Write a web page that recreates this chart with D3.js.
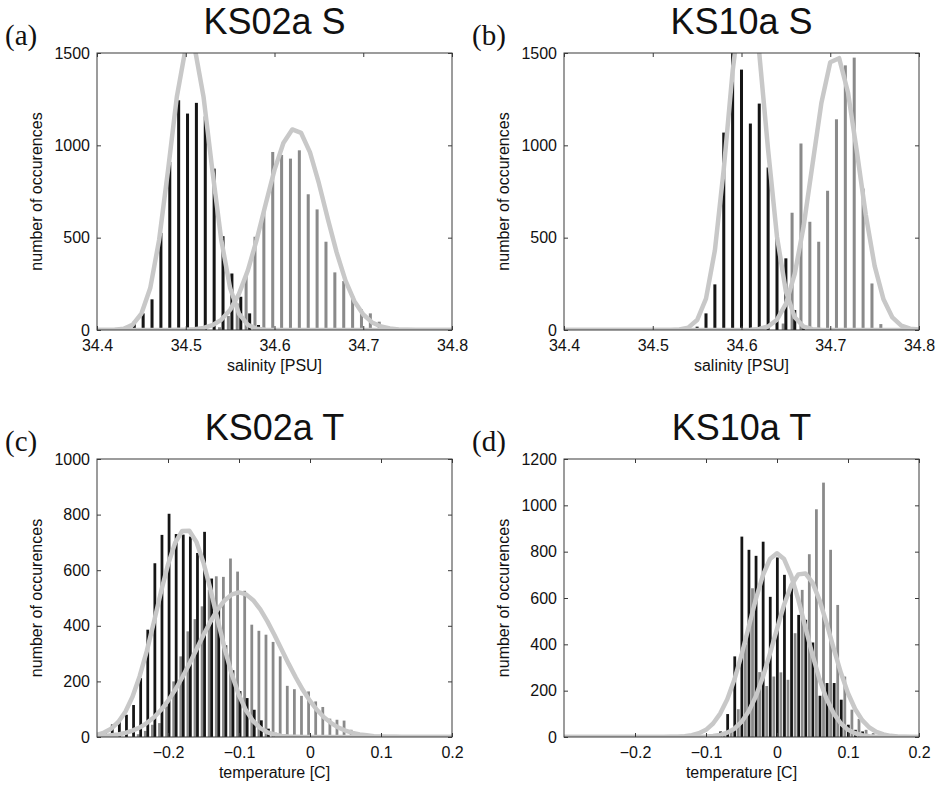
<!DOCTYPE html>
<html><head><meta charset="utf-8">
<script src="https://cdn.jsdelivr.net/npm/d3@7/dist/d3.min.js"></script>
<style>body{margin:0;background:#fff}svg{display:block}</style>
</head><body><svg id="chart" width="940" height="789"></svg>
<script>
// ---------- tick values / labels ----------
const salTicks = [34.4, 34.5, 34.6, 34.7, 34.8];
const salTickLabels = ["34.4", "34.5", "34.6", "34.7", "34.8"];
const tempTicks = [-0.2, -0.1, 0, 0.1, 0.2];
const tempTickLabels = ["\u22120.2", "\u22120.1", "0", "0.1", "0.2"];
const yTicksS = [0, 500, 1000, 1500];
const yTicksC = [0, 200, 400, 600, 800, 1000];
const yTicksD = [0, 200, 400, 600, 800, 1000, 1200];

// ---------- (a) KS02a S ----------
const aBlackX = [34.442,34.452,34.462,34.472,34.482,34.492,34.502,34.512,34.522,34.532,34.542,34.552,34.562,34.572,34.582];
const aBlackN = [45,90,166,526,910,1244,1172,1230,1157,874,508,306,180,90,27];
const aGrayX = [34.538,34.548,34.558,34.568,34.578,34.588,34.598,34.608,34.618,34.628,34.638,34.648,34.658,34.668,34.678,34.688,34.698,34.708,34.718];
const aGrayN = [15,76,144,303,505,649,964,948,928,973,735,653,478,312,265,184,112,90,45];

// salinity grid for fitted curves
const salGrid = [34.40,34.41,34.42,34.43,34.44,34.45,34.46,34.47,34.48,34.49,34.50,34.51,34.52,34.53,34.54,34.55,34.56,34.57,34.58,34.59,34.60,34.61,34.62,34.63,34.64,34.65,34.66,34.67,34.68,34.69,34.70,34.71,34.72,34.73,34.74,34.75,34.76,34.77,34.78,34.79,34.80];
const aFitBlack = [0,0,2,7,28,88,227,488,864,1264,1530,1530,1264,864,488,227,88,28,7,2,0,0,0,0,0,0,0,0,0,0,0,0,0,0,0,0,0,0,0,0,0];
const aFitGray  = [0,0,0,0,0,0,0,0,0,1,2,4,11,26,55,109,196,323,490,681,867,1013,1086,1067,962,795,603,420,267,156,84,41,19,8,3,1,0,0,0,0,0];

// ---------- (b) KS10a S ----------
const bBlackX = [34.55,34.56,34.57,34.58,34.59,34.60,34.61,34.62,34.63,34.64,34.65,34.66,34.67];
const bBlackN = [18,90,247,1069,1540,1410,1118,1226,880,505,388,108,27];
const bGrayX = [34.647,34.657,34.667,34.677,34.687,34.697,34.707,34.717,34.727,34.737,34.747,34.757];
const bGrayN = [35,635,1010,586,478,754,1141,1433,1475,766,252,32];
const bFitBlack = [0,0,0,0,0,0,0,0,0,0,0,0,0,3,13,54,170,431,870,1401,1798,1839,1500,975,505,209,69,18,4,1,0,0,0,0,0,0,0,0,0,0,0];
const bFitGray  = [0,0,0,0,0,0,0,0,0,0,0,0,0,0,0,0,0,0,0,0,0,2,6,19,56,141,304,562,897,1229,1450,1472,1286,966,625,347,166,68,24,7,2];

// ---------- (c) KS02a T ----------
const cBlackX = [-0.2985,-0.2885,-0.2785,-0.2685,-0.2585,-0.2485,-0.2385,-0.2285,-0.2185,-0.2085,-0.1985,-0.1885,-0.1785,-0.1685,-0.1585,-0.1485,-0.1385,-0.1285,-0.1185,-0.1085,-0.0985,-0.0885,-0.0785,-0.0685,-0.0585,-0.0485,-0.0385,-0.0285];
const cBlackN = [5,18,45,60,80,115,212,386,625,727,803,730,728,721,662,738,570,470,330,240,165,140,98,60,30,15,8,4];
const cGrayX = [-0.242,-0.232,-0.222,-0.212,-0.202,-0.192,-0.182,-0.172,-0.162,-0.152,-0.142,-0.132,-0.122,-0.112,-0.102,-0.092,-0.082,-0.072,-0.062,-0.052,-0.042,-0.032,-0.022,-0.012,-0.002,0.008,0.018,0.028,0.038,0.048,0.058];
const cGrayN = [10,22,44,50,110,200,290,380,424,470,530,578,576,642,595,526,404,382,368,342,290,184,172,148,164,128,108,66,62,59,26];

// temperature grid for fitted curves
const tempGrid = [-0.30,-0.29,-0.28,-0.27,-0.26,-0.25,-0.24,-0.23,-0.22,-0.21,-0.20,-0.19,-0.18,-0.17,-0.16,-0.15,-0.14,-0.13,-0.12,-0.11,-0.10,-0.09,-0.08,-0.07,-0.06,-0.05,-0.04,-0.03,-0.02,-0.01,0.00,0.01,0.02,0.03,0.04,0.05,0.06,0.07,0.08,0.09,0.10,0.11,0.12,0.13,0.14,0.15,0.16,0.17,0.18,0.19,0.20];
const cFitBlack = [8,16,30,54,91,145,218,308,412,521,620,698,741,742,702,627,529,421,316,224,150,95,57,32,17,9,4,2,1,0,0,0,0,0,0,0,0,0,0,0,0,0,0,0,0,0,0,0,0,0,0];
const cFitGray  = [2,3,6,9,15,23,34,50,70,97,130,169,214,263,315,367,416,459,492,513,520,513,492,459,416,367,315,263,214,169,130,97,70,50,34,23,15,9,6,3,2,1,1,0,0,0,0,0,0,0,0];

// ---------- (d) KS10a T ----------
const dBlackX = [-0.0895,-0.0795,-0.0695,-0.0595,-0.0495,-0.0395,-0.0295,-0.0195,-0.0095,0.0005,0.0105,0.0205,0.0305,0.0405,0.0505,0.0605,0.0705,0.0805,0.0905,0.1005,0.1105,0.1205,0.1305];
const dBlackN = [6,24,99,348,865,808,782,843,605,775,700,655,527,506,408,178,233,233,161,53,31,24,5];
const dGrayX = [-0.0745,-0.0645,-0.0545,-0.0445,-0.0345,-0.0245,-0.0145,-0.0045,0.0055,0.0155,0.0255,0.0355,0.0455,0.0555,0.0655,0.0755,0.0855,0.0955,0.1055,0.1155,0.1255,0.1355];
const dGrayN = [8,31,120,400,642,280,220,261,279,247,448,635,789,983,1098,808,570,261,118,78,31,17];
const dFitBlack = [0,0,0,0,0,0,0,0,0,0,0,0,0,0,0,1,1,3,8,16,31,58,101,163,248,354,473,593,697,768,793,768,697,593,473,354,248,163,101,58,31,16,8,3,1,1,0,0,0,0,0];
const dFitGray  = [0,0,0,0,0,0,0,0,0,0,0,0,0,0,0,0,0,0,0,1,2,4,9,19,36,65,110,174,258,359,467,571,654,702,706,666,590,489,380,277,189,121,73,41,22,11,5,2,1,0,0];

// ---------- layout / style ----------
const FONT = "'Liberation Sans', Arial, Helvetica, sans-serif";
const SERIF = "'Liberation Serif', 'Times New Roman', serif";
const BLACK_BAR = "#151515", GRAY_BAR = "#8a8a8a", FIT = "#c8c8c8", AXIS = "#3a3a3a";

const panels = [
  {key:"a", box:{l:97,r:452,t:53,b:330}, xDom:[34.4,34.8], yDom:[0,1500], xt:salTicks, xtl:salTickLabels, yt:yTicksS,
   title:"KS02a S", tag:"(a)", xlab:"salinity [PSU]", bx:aBlackX, bn:aBlackN, gx:aGrayX, gn:aGrayN, fx:salGrid, fb:aFitBlack, fg:aFitGray, bw:0.0034},
  {key:"b", box:{l:564,r:919,t:53,b:330}, xDom:[34.4,34.8], yDom:[0,1500], xt:salTicks, xtl:salTickLabels, yt:yTicksS,
   title:"KS10a S", tag:"(b)", xlab:"salinity [PSU]", bx:bBlackX, bn:bBlackN, gx:bGrayX, gn:bGrayN, fx:salGrid, fb:bFitBlack, fg:bFitGray, bw:0.0034},
  {key:"c", box:{l:97,r:452,t:459,b:737}, xDom:[-0.3,0.2], yDom:[0,1000], xt:tempTicks, xtl:tempTickLabels, yt:yTicksC,
   title:"KS02a T", tag:"(c)", xlab:"temperature [C]", bx:cBlackX, bn:cBlackN, gx:cGrayX, gn:cGrayN, fx:tempGrid, fb:cFitBlack, fg:cFitGray, bw:0.0039},
  {key:"d", box:{l:564,r:919,t:459,b:737}, xDom:[-0.3,0.2], yDom:[0,1200], xt:tempTicks, xtl:tempTickLabels, yt:yTicksD,
   title:"KS10a T", tag:"(d)", xlab:"temperature [C]", bx:dBlackX, bn:dBlackN, gx:dGrayX, gn:dGrayN, fx:tempGrid, fb:dFitBlack, fg:dFitGray, bw:0.0039}
];

const svg = d3.select("#chart");
const defs = svg.append("defs");

panels.forEach(p => {
  const B = p.box;
  const x = d3.scaleLinear().domain(p.xDom).range([B.l, B.r]);
  const y = d3.scaleLinear().domain(p.yDom).range([B.b, B.t]);
  const g = svg.append("g");

  defs.append("clipPath").attr("id", "clip-" + p.key)
    .append("rect").attr("x", B.l).attr("y", B.t).attr("width", B.r - B.l).attr("height", B.b - B.t);
  const plot = g.append("g").attr("clip-path", `url(#clip-${p.key})`);

  const barW = x(p.xDom[0] + p.bw) - x(p.xDom[0]);
  const drawBars = (xs, ns, color) => {
    plot.append("g").selectAll("rect").data(xs.map((v, i) => [v, ns[i]])).join("rect")
      .attr("x", d => x(d[0]) - barW / 2)
      .attr("width", barW)
      .attr("y", d => y(d[1]))
      .attr("height", d => y(0) - y(d[1]))
      .attr("fill", color);
  };
  drawBars(p.gx, p.gn, GRAY_BAR);
  drawBars(p.bx, p.bn, BLACK_BAR);

  const line = d3.line().x(d => x(d[0])).y(d => y(d[1]));
  [p.fb, p.fg].forEach(vals => {
    plot.append("path").datum(p.fx.map((v, i) => [v, vals[i]]))
      .attr("d", line).attr("fill", "none").attr("stroke", FIT)
      .attr("stroke-width", 4.5).attr("stroke-linejoin", "round").attr("stroke-linecap", "round");
  });

  // axes (ticks inside, mirrored)
  const fmtX = d => p.xtl[p.xt.indexOf(d)];
  const ax = [
    g.append("g").attr("transform", `translate(0,${B.b})`).call(d3.axisBottom(x).tickValues(p.xt).tickFormat(fmtX).tickSize(-4).tickSizeOuter(0).tickPadding(9.5)),
    g.append("g").attr("transform", `translate(0,${B.t})`).call(d3.axisTop(x).tickValues(p.xt).tickFormat("").tickSize(-4).tickSizeOuter(0)),
    g.append("g").attr("transform", `translate(${B.l},0)`).call(d3.axisLeft(y).tickValues(p.yt).tickFormat(d3.format("d")).tickSize(-4).tickSizeOuter(0).tickPadding(7)),
    g.append("g").attr("transform", `translate(${B.r},0)`).call(d3.axisRight(y).tickValues(p.yt).tickFormat("").tickSize(-4).tickSizeOuter(0))
  ];
  ax.forEach(a => {
    a.select(".domain").remove();
    a.selectAll(".tick line").attr("stroke", AXIS);
    a.selectAll(".tick text").attr("fill", "#111").style("font-family", FONT).style("font-size", "16px");
  });
  g.append("rect").attr("x", B.l).attr("y", B.t).attr("width", B.r - B.l).attr("height", B.b - B.t)
    .attr("fill", "none").attr("stroke", AXIS).attr("stroke-width", 1);

  // texts
  const cx = (B.l + B.r) / 2, cy = (B.t + B.b) / 2;
  g.append("text").attr("x", cx).attr("y", B.t - 19.5).attr("text-anchor", "middle")
    .style("font-family", FONT).style("font-size", "36px").attr("fill", "#111").text(p.title);
  g.append("text").attr("x", B.l - 92).attr("y", B.t - 8).style("font-family", SERIF)
    .style("font-size", "29px").attr("fill", "#111").text(p.tag);
  g.append("text").attr("x", cx).attr("y", B.b + 41).attr("text-anchor", "middle")
    .style("font-family", FONT).style("font-size", "16px").attr("fill", "#111").text(p.xlab);
  g.append("text").attr("transform", `translate(${B.l - 55},${cy}) rotate(-90)`).attr("text-anchor", "middle")
    .style("font-family", FONT).style("font-size", "16px").attr("fill", "#111").text("number of occurences");
});
</script></body></html>
